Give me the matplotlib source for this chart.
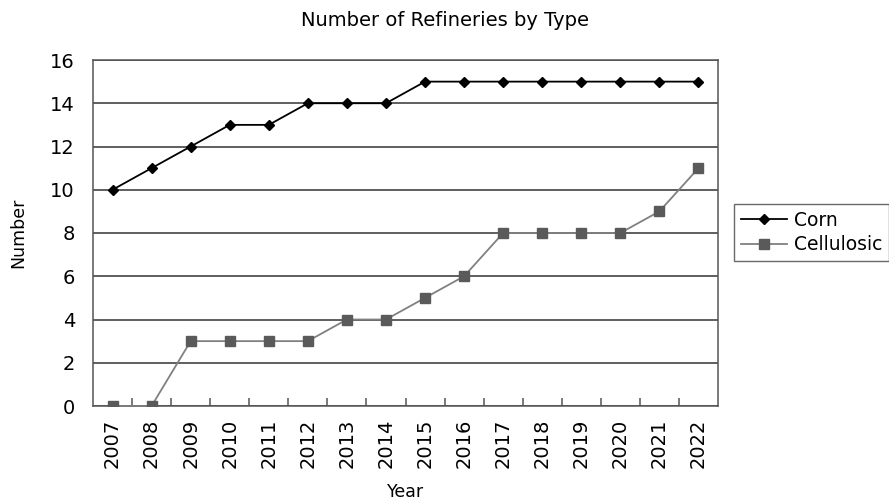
import matplotlib
matplotlib.use("Agg")
import matplotlib.pyplot as plt
import numpy as np

years = [str(y) for y in range(2007, 2023)]
corn = [10, 11, 12, 13, 13, 14, 14, 14, 15, 15, 15, 15, 15, 15, 15, 15]
cellulosic = [0, 0, 3, 3, 3, 3, 4, 4, 5, 6, 8, 8, 8, 8, 9, 11]
yticks = list(range(0, 17, 2))

plt.rcParams['font.family'] = ['DejaVu Sans']

fig = plt.figure(figsize=(8.89, 5.0), dpi=100)
ax = fig.add_axes([93 / 889, 94 / 500, 625 / 889, 346 / 500])

x = np.arange(len(years))
ax.plot(x, corn, color='black', lw=1.3, marker='D', ms=5.5,
        mfc='black', mec='black', label='Corn', zorder=4)
ax.plot(x, cellulosic, color='#808080', lw=1.3, marker='s', ms=6.5,
        mfc='#5a5a5a', mec='#5a5a5a', label='Cellulosic', zorder=3)

ax.set_xlim(-0.5, len(years) - 0.5)
ax.set_ylim(0, 16)
ax.set_yticks(yticks)
ax.yaxis.grid(True, color='#333333', lw=1.1)
ax.set_axisbelow(True)
ax.tick_params(axis='y', length=0, pad=13, labelsize=14)

ax.set_xticks(x)
ax.set_xticklabels(years, rotation=90)
ax.set_xticks(x[:-1] + 0.5, minor=True)
ax.tick_params(axis='x', which='major', length=0, pad=9, labelsize=14)
ax.tick_params(axis='x', which='minor', direction='in', length=6,
               width=1.1, color='#555555')

for s in ax.spines.values():
    s.set_color('#555555')
    s.set_linewidth(1.1)

ax.set_ylabel('Number', fontsize=12.5, va='center')
ax.yaxis.set_label_coords(-75 / 625, 0.5)
ax.set_xlabel('Year', fontsize=12.5, va='center')
ax.xaxis.set_label_coords(0.5, -86 / 346)
fig.text(445 / 889, 1 - 21 / 500, 'Number of Refineries by Type',
         ha='center', va='center', fontsize=14)

leg = fig.legend(loc='upper left', bbox_to_anchor=(734 / 889, 1 - 204 / 500),
                 frameon=True, fancybox=False, fontsize=13.5,
                 handlelength=2.5, borderpad=0.35, labelspacing=0.3,
                 handletextpad=0.35, borderaxespad=0)
leg.get_frame().set_edgecolor('#444444')
leg.get_frame().set_linewidth(1.0)

fig.savefig('out.png', dpi=100)
